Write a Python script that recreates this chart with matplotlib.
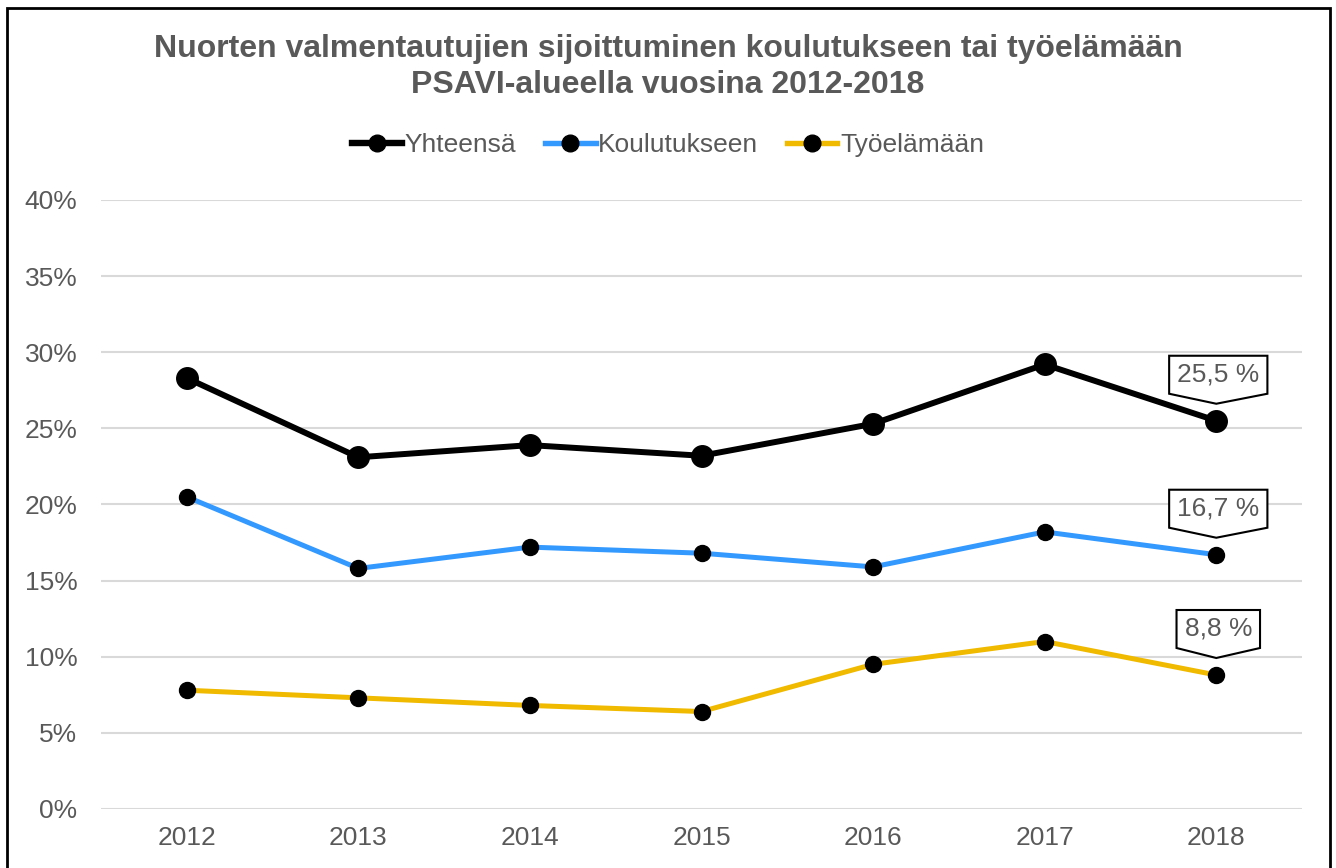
import matplotlib
matplotlib.use("Agg")
import matplotlib.pyplot as plt
import matplotlib.patches as mpatches
import matplotlib.transforms as mtransforms
from matplotlib.lines import Line2D


years = ["2012", "2013", "2014", "2015", "2016", "2017", "2018"]
yhteensa = [28.3, 23.1, 23.9, 23.2, 25.3, 29.2, 25.5]
koulutukseen = [20.5, 15.8, 17.2, 16.8, 15.9, 18.2, 16.7]
tyoelamaan = [7.8, 7.3, 6.8, 6.4, 9.5, 11.0, 8.8]
callout_labels = ["25,5 %", "16,7 %", "8,8 %"]

GRAY = "#595959"
plt.rcParams["font.family"] = ["Liberation Sans", "DejaVu Sans"]

fig = plt.figure(figsize=(13.36, 8.68), dpi=100)
ax = fig.add_axes([0.0756, 0.068, 0.899, 0.7016])

x = list(range(len(years)))
series = [
    ("Yhteensä", yhteensa, "black", 4.3, 15.5),
    ("Koulutukseen", koulutukseen, "#3399FF", 3.6, 11.5),
    ("Työelämään", tyoelamaan, "#F0BA00", 3.6, 11.5),
]
for name, vals, color, lw, ms in series:
    ax.plot(x, [v / 100 for v in vals], color=color, linewidth=lw, marker="o",
            markersize=ms, markerfacecolor="black", markeredgecolor="black",
            solid_capstyle="round", zorder=3)

ax.set_xlim(-0.5, 6.5)
ax.set_ylim(0, 0.40)
ax.set_yticks([i * 0.05 for i in range(9)])
ax.set_yticklabels([f"{i * 5}%" for i in range(9)])
ax.set_xticks(x)
ax.set_xticklabels(years)
ax.grid(axis="y", color="#D9D9D9", linewidth=1.5)
ax.set_axisbelow(True)
for s in ax.spines.values():
    s.set_visible(False)
ax.tick_params(axis="both", length=0, labelsize=19, labelcolor=GRAY)
ax.tick_params(axis="y", pad=17)
ax.tick_params(axis="x", pad=12)

fig.text(0.5, 1 - 67 / 868, "Nuorten valmentautujien sijoittuminen koulutukseen tai työelämään\nPSAVI-alueella vuosina 2012-2018",
         ha="center", va="center", fontsize=23, fontweight="bold", color=GRAY,
         linespacing=1.26)

handles = [Line2D([], [], color=c, linewidth=lw + 0.3, marker="o", markersize=12,
                  markerfacecolor="black", markeredgecolor="black")
           for _, _, c, lw, _ in series]
leg = fig.legend(handles, [s[0] for s in series], loc="center",
                 bbox_to_anchor=(0.5, 1 - 145 / 868), ncol=3, frameon=False,
                 handlelength=1.9, handletextpad=0.1, columnspacing=1.1,
                 prop={"size": 19})
for t in leg.get_texts():
    t.set_color(GRAY)

# callout boxes on the last points
fig.canvas.draw()
renderer = fig.canvas.get_renderer()
for (name, vals, *_), label in zip(series, callout_labels):
    px, py = ax.transData.transform((6, vals[-1] / 100))
    txt = fig.text(0, 0, label, fontsize=19, color=GRAY, ha="center", va="center",
                   transform=mtransforms.IdentityTransform(), zorder=5)
    txt.set_position((px + 2, py + 46))
    w = txt.get_window_extent(renderer).width
    half = w / 2 + 8
    tip, side, top = 17, 27, 65
    verts = [(px - half + 2, py + top), (px + half + 2, py + top), (px + half + 2, py + side),
             (px, py + tip), (px - half + 2, py + side)]
    poly = mpatches.Polygon(verts, closed=True, facecolor="white", edgecolor="black",
                            linewidth=1.5, transform=mtransforms.IdentityTransform(),
                            zorder=4)
    fig.patches.append(poly)

border = mpatches.Rectangle((7 / 1336, -0.05), 1323 / 1336, 1.05 - 8 / 868,
                            transform=fig.transFigure, fill=False,
                            edgecolor="black", linewidth=2)
fig.patches.append(border)

fig.savefig("out.png", dpi=100)
